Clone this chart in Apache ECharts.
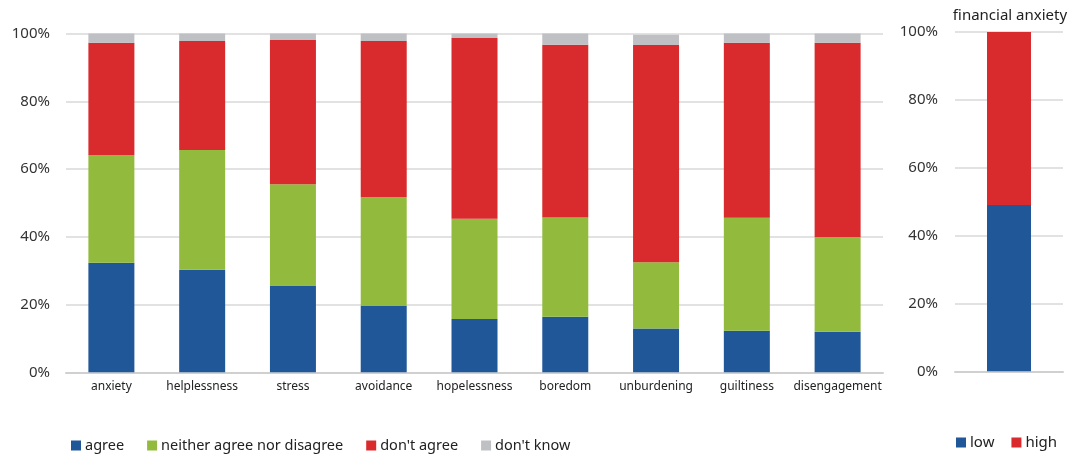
<!DOCTYPE html>
<html><head><meta charset="utf-8">
<script src="https://cdn.jsdelivr.net/npm/echarts@6/dist/echarts.min.js"></script>
<style>html,body{margin:0;padding:0;background:#fff}#c{width:1084px;height:455px}</style>
</head><body><div id="c"></div>
<script>
const categories = ['anxiety','helplessness','stress','avoidance','hopelessness','boredom','unburdening','guiltiness','disengagement'];
const agree     = [32.3, 30.3, 25.6, 19.6, 15.7, 16.4, 12.9, 12.3, 12.0];
const neither   = [31.8, 35.3, 29.9, 32.1, 29.6, 29.3, 19.6, 33.3, 27.9];
const dontAgree = [33.2, 32.2, 42.6, 46.1, 53.4, 51.0, 64.1, 51.7, 57.4];
const dontKnow  = [2.7, 2.2, 1.9, 2.2, 1.3, 3.3, 3.0, 2.7, 2.7];
const finCategories = ['financial anxiety'];
const finLow  = [49.0];
const finHigh = [51.0];
const yTicks = [0, 20, 40, 60, 80, 100];

const C = {blue:'#1f5799', green:'#92bb3d', red:'#d92b2d', gray:'#bfc0c4'};
const FONT = '"Noto Sans", "Open Sans", sans-serif';
const yAxisBase = {
  type:'value', min:yTicks[0], max:yTicks[yTicks.length-1], interval:20,
  axisLine:{show:false}, axisTick:{show:false},
  splitLine:{lineStyle:{color:'#d9d9d9', width:1.5}},
  axisLabel:{formatter:'{value}%', fontSize:15, color:'#333', fontFamily:FONT, margin:16}
};
const chart = echarts.init(document.getElementById('c'));
chart.setOption({
  animation:false,
  textStyle:{fontFamily:FONT},
  title:{text:'financial anxiety', left:1010, top:8, textAlign:'center', padding:0,
    textStyle:{fontSize:15, fontWeight:'normal', color:'#222', fontFamily:FONT}},
  legend:[
    {data:['agree','neither agree nor disagree',"don't agree","don't know"], left:66, top:433,
     itemWidth:10, itemHeight:10, itemGap:23, icon:'rect',
     textStyle:{fontSize:14.5, color:'#222', fontFamily:FONT, padding:[0,0,0,-1]}},
    {data:['low','high'], left:951, top:430,
     itemWidth:10, itemHeight:10, itemGap:17, icon:'rect',
     textStyle:{fontSize:15, color:'#222', fontFamily:FONT, padding:[0,0,0,-1]}}
  ],
  grid:[
    {left:66, right:201, top:33.5, bottom:82.7, containLabel:false},
    {left:955, right:21, top:32, bottom:83.7, containLabel:false}
  ],
  xAxis:[
    {type:'category', gridIndex:0, data:categories,
     axisLine:{lineStyle:{color:'#d0d0d0', width:2}}, axisTick:{show:false},
     axisLabel:{fontSize:12, color:'#222', fontFamily:FONT, margin:8, interval:0}},
    {type:'category', gridIndex:1, data:finCategories,
     axisLine:{lineStyle:{color:'#d0d0d0', width:2}}, axisTick:{show:false},
     axisLabel:{show:false}}
  ],
  yAxis:[
    Object.assign({gridIndex:0}, yAxisBase),
    Object.assign({gridIndex:1}, yAxisBase, {axisLabel:Object.assign({}, yAxisBase.axisLabel, {margin:17})})
  ],
  series:[
    {name:'agree', type:'bar', stack:'a', data:agree, itemStyle:{color:C.blue}, barWidth:46, xAxisIndex:0, yAxisIndex:0},
    {name:'neither agree nor disagree', type:'bar', stack:'a', data:neither, itemStyle:{color:C.green}, xAxisIndex:0, yAxisIndex:0},
    {name:"don't agree", type:'bar', stack:'a', data:dontAgree, itemStyle:{color:C.red}, xAxisIndex:0, yAxisIndex:0},
    {name:"don't know", type:'bar', stack:'a', data:dontKnow, itemStyle:{color:C.gray}, xAxisIndex:0, yAxisIndex:0},
    {name:'low', type:'bar', stack:'f', data:finLow, itemStyle:{color:C.blue}, barWidth:44, xAxisIndex:1, yAxisIndex:1},
    {name:'high', type:'bar', stack:'f', data:finHigh, itemStyle:{color:C.red}, xAxisIndex:1, yAxisIndex:1}
  ]
});
</script></body></html>
